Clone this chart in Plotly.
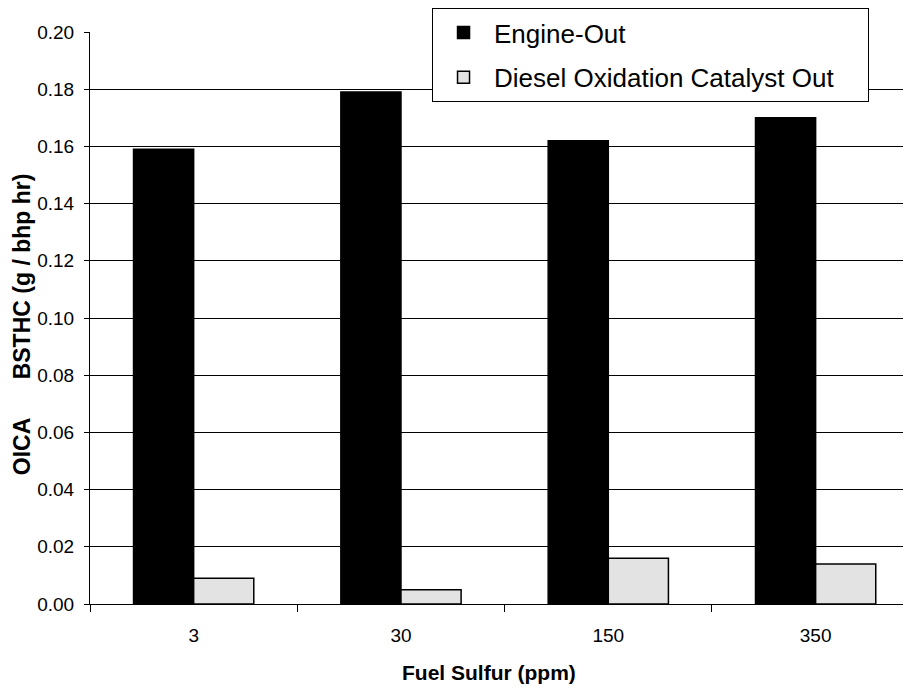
import plotly.graph_objects as go

sulfur = ["3", "30", "150", "350"]
engine_out = [0.159, 0.179, 0.162, 0.170]
doc_out = [0.009, 0.005, 0.016, 0.014]

FONT = "Liberation Sans, Arial, sans-serif"
PAD = "\u00a0" * 4  # extra room at the right of the legend box

fig = go.Figure()
fig.add_trace(go.Bar(
    x=sulfur, y=engine_out, name="Engine-Out", legendgroup="a",
    marker=dict(color="black", line=dict(color="black", width=1.5))
))
fig.add_trace(go.Bar(
    x=sulfur, y=doc_out, name="Diesel Oxidation Catalyst Out" + PAD, legendgroup="b",
    marker=dict(color="#e3e3e3", line=dict(color="black", width=1.5))
))

# page body has an 8px margin, so the figure is shrunk and shifted to fit
fig.update_layout(
    width=903, height=685,
    margin=dict(l=82, r=0, t=24, b=89),
    paper_bgcolor="white", plot_bgcolor="white",
    barmode="group", bargap=0.42, bargroupgap=0,
    font=dict(family=FONT, color="black", size=16),
    showlegend=True,
    legend=dict(
        x=0.4166, y=1.042, xanchor="left", yanchor="top",
        bgcolor="white", bordercolor="black", borderwidth=1,
        font=dict(size=26, family=FONT),
        itemwidth=51, traceorder="grouped", tracegroupgap=8,
    ),
)

fig.update_xaxes(
    type="category", range=[-0.5, 3.46],
    showline=True, linecolor="black", linewidth=1,
    ticks="outside", tickson="boundaries", ticklen=7, tickcolor="black",
    tickfont=dict(size=19), ticklabelstandoff=14,
)
fig.update_yaxes(
    range=[0, 0.2], dtick=0.02, tickformat=".2f",
    showline=True, linecolor="black", linewidth=1,
    showgrid=True, gridcolor="black", gridwidth=1,
    ticks="outside", ticklen=5, tickcolor="black",
    tickfont=dict(size=19), ticklabelstandoff=6, zeroline=False,
)

fig.add_annotation(
    text="<b>Fuel Sulfur (ppm)</b>", xref="paper", yref="paper",
    x=0.486, y=-0.1206, xanchor="center", yanchor="middle",
    showarrow=False, font=dict(size=21),
)
fig.add_annotation(
    text="<b>OICA\u00a0\u00a0\u00a0\u00a0\u00a0\u00a0BSTHC (g / bhp hr)</b>",
    xref="paper", yref="paper", textangle=-90,
    x=-0.0835, y=0.49, xanchor="center", yanchor="middle",
    showarrow=False, font=dict(size=23),
)

fig.write_html("out.html")
